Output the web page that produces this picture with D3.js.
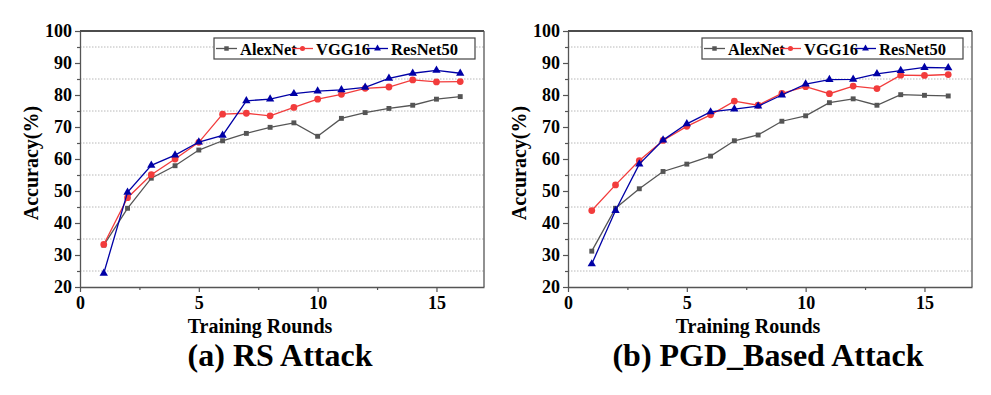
<!DOCTYPE html>
<html lang="en">
  <head>
    <meta charset="UTF-8" />
    <title>accuracy vs training rounds</title>
    <style>
      body { margin: 0; background: #fff; }
    </style>
  </head>
  <body>
    <svg width="991" height="395" xmlns="http://www.w3.org/2000/svg"></svg>
  </body>
  <script src="https://cdn.jsdelivr.net/npm/d3@7"></script>
  <script>
    const rounds = d3.range(1, 17);
    const yTicks = [20, 30, 40, 50, 60, 70, 80, 90, 100];
    const xTicks = [0, 5, 10, 15];
    const gridVals = [25, 35, 45, 55, 65, 75, 85, 95];

    // (a) RS Attack
    const rsAlex = [33.1, 44.6, 54.0, 57.9, 62.8, 65.7, 68.0, 69.9, 71.3, 67.1, 72.7, 74.5, 75.8, 76.8, 78.7, 79.5];
    const rsVgg = [33.3, 47.9, 55.1, 60.0, 65.2, 74.0, 74.3, 73.5, 76.1, 78.7, 80.2, 82.1, 82.5, 84.7, 84.1, 84.2];
    const rsRes = [24.3, 49.6, 58.0, 61.2, 65.3, 67.4, 78.2, 78.7, 80.4, 81.2, 81.6, 82.4, 85.2, 86.8, 87.7, 86.8];

    // (b) PGD_Based Attack
    const pgdAlex = [31.2, 44.6, 50.7, 56.1, 58.4, 60.9, 65.7, 67.5, 71.8, 73.5, 77.6, 78.8, 76.8, 80.1, 79.9, 79.7];
    const pgdVgg = [43.9, 51.9, 59.5, 65.8, 70.2, 73.8, 78.1, 76.8, 80.5, 82.6, 80.4, 82.8, 82.0, 86.2, 86.1, 86.4];
    const pgdRes = [27.2, 43.9, 58.4, 65.9, 71.0, 74.7, 75.6, 76.5, 80.0, 83.4, 84.8, 84.9, 86.6, 87.6, 88.6, 88.5];

    const seriesNames = ["AlexNet", "VGG16", "ResNet50"];
    const colors = ["#555555", "#f23c3c", "#0000a6"];
    const symbols = [d3.symbolSquare, d3.symbolCircle, d3.symbolTriangle];
    const markSize = [24, 36, 30];
    const serif = "'Liberation Serif', 'Times New Roman', Times, serif";

    const svg = d3.select("svg");
    const plotTop = 31, plotBottom = 287, plotW = 404;

    drawPanel(80, [rsAlex, rsVgg, rsRes], "(a) RS Attack");
    drawPanel(568, [pgdAlex, pgdVgg, pgdRes], "(b) PGD_Based Attack");

    // axes set their own font, so force the serif face on every label
    svg.selectAll("g").attr("font-family", null);
    svg.selectAll("text")
      .style("font-family", serif)
      .style("font-weight", "bold")
      .style("fill", "#000");

    function drawPanel(left, data, title) {
      const x = d3.scaleLinear().domain([0, 17]).range([left, left + plotW]);
      const y = d3.scaleLinear().domain([20, 100]).range([plotBottom, plotTop]);
      const g = svg.append("g");

      // dotted grid at the half-steps
      g.selectAll(".grid")
        .data(gridVals)
        .enter()
        .append("line")
        .attr("x1", left)
        .attr("x2", left + plotW)
        .attr("y1", d => y(d))
        .attr("y2", d => y(d))
        .style("stroke", "#b8b8b8")
        .style("stroke-width", 1)
        .style("stroke-dasharray", "1.5,1.5");

      // frame
      g.append("line").attr("x1", left).attr("x2", left + plotW).attr("y1", plotTop).attr("y2", plotTop)
        .style("stroke", "#111").style("stroke-width", 1.3);
      g.append("line").attr("x1", left + plotW).attr("x2", left + plotW).attr("y1", plotTop).attr("y2", plotBottom)
        .style("stroke", "#555").style("stroke-width", 1.3);

      // x axis
      const xAxis = g.append("g").attr("transform", `translate(0,${plotBottom})`)
        .call(d3.axisBottom(x).tickValues(xTicks).tickSize(5).tickSizeOuter(0).tickPadding(4));
      g.append("g").attr("transform", `translate(0,${plotBottom})`)
        .call(d3.axisBottom(x).tickValues([2.5, 7.5, 12.5]).tickSize(3).tickSizeOuter(0).tickFormat(""))
        .select(".domain").remove();

      // y axis
      const yAxis = g.append("g").attr("transform", `translate(${left},0)`)
        .call(d3.axisLeft(y).tickValues(yTicks).tickSize(5).tickSizeOuter(0).tickPadding(3));
      g.append("g").attr("transform", `translate(${left},0)`)
        .call(d3.axisLeft(y).tickValues(gridVals).tickSize(3).tickSizeOuter(0).tickFormat(""))
        .select(".domain").remove();

      g.selectAll(".domain").style("stroke", "#555").style("stroke-width", 1.3);
      g.selectAll(".tick line").style("stroke", "#555").style("stroke-width", 1.2);
      xAxis.selectAll("text").style("font-size", "18px");
      yAxis.selectAll("text").style("font-size", "18px");

      // series
      const line = d3.line().x((d, i) => x(rounds[i])).y(d => y(d));
      data.forEach((vals, k) => {
        g.append("path")
          .attr("d", line(vals))
          .style("fill", "none")
          .style("stroke", colors[k])
          .style("stroke-width", 1.3);
        g.selectAll(".pt" + k)
          .data(vals)
          .enter()
          .append("path")
          .attr("class", "pt" + k)
          .attr("transform", (d, i) => `translate(${x(rounds[i])},${y(d)})`)
          .attr("d", d3.symbol().type(symbols[k]).size(markSize[k]))
          .style("fill", colors[k]);
      });

      // legend
      const lg = g.append("g").attr("transform", `translate(${left + 134},38)`);
      lg.append("rect").attr("width", 261).attr("height", 21)
        .style("fill", "#fff").style("stroke", "#444").style("stroke-width", 1.2);
      const offs = [2, 78, 153];
      seriesNames.forEach((name, k) => {
        const ox = offs[k];
        lg.append("line").attr("x1", ox).attr("x2", ox + 21).attr("y1", 10.5).attr("y2", 10.5)
          .style("stroke", colors[k]).style("stroke-width", 1.3);
        lg.append("path").attr("transform", `translate(${ox + 10.5},10.5)`)
          .attr("d", d3.symbol().type(symbols[k]).size(20))
          .style("fill", colors[k]);
        lg.append("text").attr("x", ox + 24).attr("y", 16.5)
          .style("font-size", "16.5px").text(name);
      });

      // axis titles
      g.append("text")
        .attr("x", left + 180)
        .attr("y", 333)
        .attr("text-anchor", "middle")
        .style("font-size", "20px")
        .text("Training Rounds");
      g.append("text")
        .attr("transform", `translate(${left - 42},163) rotate(-90)`)
        .attr("text-anchor", "middle")
        .style("font-size", "20px")
        .text("Accuracy(%)");

      g.append("text")
        .attr("x", left + 200)
        .attr("y", 366)
        .attr("text-anchor", "middle")
        .style("font-size", "32px")
        .text(title);
    }
  </script>
</html>
